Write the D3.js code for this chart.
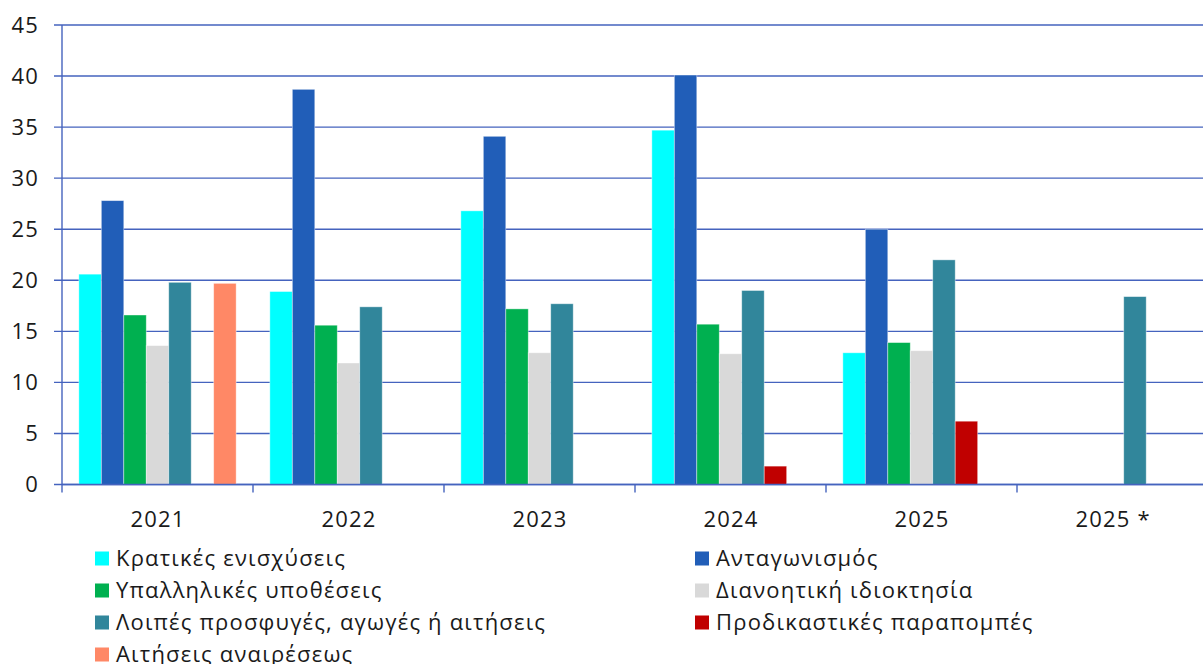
<!DOCTYPE html>
<html><head><meta charset="utf-8">
<script src="https://cdn.jsdelivr.net/npm/d3@7"></script>
<style>body{margin:0;background:#fff}svg{display:block}text{font-family:"Open Sans",sans-serif;fill:#1a1a1a;letter-spacing:1.2px}</style>
</head><body><svg id="c" width="1203" height="664"></svg>
<script>
const categories = ["2021","2022","2023","2024","2025","2025 *"];
const seriesNames = ["Κρατικές ενισχύσεις","Ανταγωνισμός","Υπαλληλικές υποθέσεις","Διανοητική ιδιοκτησία","Λοιπές προσφυγές, αγωγές ή αιτήσεις","Προδικαστικές παραπομπές","Αιτήσεις αναιρέσεως"];
const seriesColors = ["#00FFFF","#215EB8","#00B050","#D9D9D9","#31869B","#C00000","#FF8866"];
const stateAid      = [20.6, 18.9, 26.8, 34.7, 12.9, null];
const competition   = [27.8, 38.7, 34.1, 40.1, 25.0, null];
const staffCases    = [16.6, 15.6, 17.2, 15.7, 13.9, null];
const ipRights      = [13.6, 11.9, 12.9, 12.8, 13.1, null];
const otherActions  = [19.8, 17.4, 17.7, 19.0, 22.0, 18.4];
const prelimRefs    = [null, null, null, 1.8, 6.2, null];
const appeals       = [19.7, null, null, null, null, null];
const yTicks = [0,5,10,15,20,25,30,35,40,45];

(function(){
const seriesValues = [stateAid, competition, staffCases, ipRights, otherActions, prelimRefs, appeals];
const svg = d3.select("#c");
const pLeft = 62, pRight = 62 + 6*191, pTop = 25, pBottom = 484.5;
const grid = "#4563BE";
const fs = 22;

const x = d3.scaleBand().domain(categories).range([pLeft, pRight]).paddingInner(0).paddingOuter(0);
const y = d3.scaleLinear().domain([0,45]).range([pBottom, pTop]);
const bw = x.bandwidth()/8.5;
const xs = d3.scaleBand().domain(d3.range(7)).range([0.75*bw, 0.75*bw + 7*bw]);

svg.append("g").selectAll("line").data(yTicks).join("line")
  .attr("x1", pLeft-8).attr("x2", 1203)
  .attr("y1", d=>y(d)).attr("y2", d=>y(d))
  .attr("stroke", grid).attr("stroke-width", 1.4);

svg.append("g").selectAll("text").data(yTicks).join("text")
  .attr("x", 39).attr("y", d=>y(d)).attr("dy","0.35em")
  .attr("text-anchor","end").attr("font-size", fs).text(d=>d);

seriesValues.forEach((vals, si) => {
  svg.append("g").selectAll("rect").data(categories.map((c,i)=>({c, v: vals[i]})).filter(d=>d.v!=null))
    .join("rect")
    .attr("x", d => x(d.c) + xs(si))
    .attr("width", xs.bandwidth())
    .attr("y", d => y(d.v))
    .attr("height", d => y(0) - y(d.v))
    .attr("fill", seriesColors[si])
    .attr("stroke", "rgba(255,255,255,0.5)").attr("stroke-width", 0.8);
});

svg.append("line").attr("x1", pLeft).attr("x2", pLeft).attr("y1", pTop).attr("y2", pBottom)
  .attr("stroke", grid).attr("stroke-width", 1.4);
svg.append("line").attr("x1", pLeft).attr("x2", 1203).attr("y1", pBottom).attr("y2", pBottom)
  .attr("stroke", grid).attr("stroke-width", 1.4);
const xTickPos = categories.map(c => x(c)).concat([pRight]);
svg.append("g").selectAll("line").data(xTickPos).join("line")
  .attr("x1", d=>d).attr("x2", d=>d).attr("y1", pBottom).attr("y2", pBottom+8)
  .attr("stroke", grid).attr("stroke-width", 1.4);
svg.append("g").selectAll("text").data(categories).join("text")
  .attr("x", d => x(d) + x.bandwidth()/2 + 0.6).attr("y", 519).attr("dy","0.35em")
  .attr("text-anchor","middle").attr("font-size", fs).text(d=>d);

const legendPos = [[95,0],[695,0],[95,1],[695,1],[95,2],[695,2],[95,3]];
const lg = svg.append("g");
seriesNames.forEach((n,i) => {
  const [lx,row] = legendPos[i];
  const ly = 551.5 + row*32;
  lg.append("rect").attr("x", lx).attr("y", ly).attr("width",14).attr("height",14).attr("fill", seriesColors[i]);
  lg.append("text").attr("x", lx+21).attr("y", ly+7).attr("dy","0.35em").attr("font-size", fs).text(n);
});
})();
</script></body></html>
